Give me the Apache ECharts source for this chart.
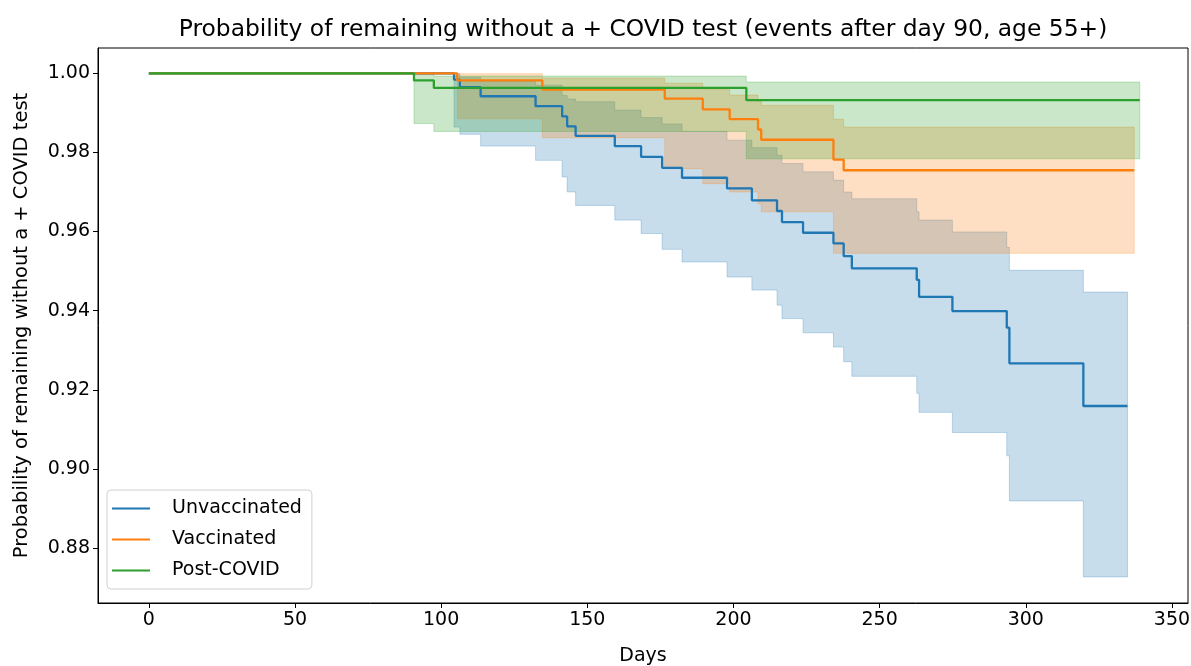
<!DOCTYPE html>
<html>
<head>
<meta charset="utf-8">
<title>Probability of remaining without a + COVID test</title>
<script src="https://cdn.jsdelivr.net/npm/echarts@6/dist/echarts.min.js"></script>
<style>
  html, body { margin: 0; padding: 0; background: #fff; }
  #chart { width: 1191px; height: 666px; }
</style>
</head>
<body>
<div id="chart"></div>
<script>
// Kaplan-Meier step curves
const xTicks = [0, 50, 100, 150, 200, 250, 300, 350]
const yTicks = [0.88, 0.90, 0.92, 0.94, 0.96, 0.98, 1.00]

const unvaxDays = [0, 104.4, 106.4, 113.5, 132.3, 141.4, 143.1, 146.0, 159.4, 168.4, 175.6, 182.4, 197.8, 206.3, 214.9, 216.6, 223.8, 234.2, 237.7, 240.5, 262.7, 263.5, 274.9, 293.5, 294.4, 319.7, 334.8]
const unvaxSurv = [1, 0.9984, 0.9965, 0.9942, 0.9917, 0.9891, 0.9866, 0.9842, 0.9816, 0.9789, 0.9761, 0.9736, 0.9709, 0.9679, 0.9652, 0.9624, 0.9597, 0.9570, 0.9538, 0.9507, 0.9478, 0.9435, 0.9399, 0.9357, 0.9267, 0.9159, 0.9159]
const unvaxLower = [1, 0.9864, 0.9846, 0.9816, 0.9780, 0.9738, 0.9700, 0.9666, 0.9629, 0.9595, 0.9555, 0.9523, 0.9485, 0.9452, 0.9414, 0.9380, 0.9344, 0.9308, 0.9271, 0.9234, 0.9191, 0.9143, 0.9092, 0.9033, 0.8919, 0.8727, 0.8727]
const unvaxUpper = [1, 0.9999, 0.9990, 0.9980, 0.9970, 0.9944, 0.9935, 0.9928, 0.9907, 0.9888, 0.9872, 0.9853, 0.9831, 0.9812, 0.9793, 0.9772, 0.9751, 0.9730, 0.9700, 0.9683, 0.9650, 0.9629, 0.9599, 0.9560, 0.9502, 0.9447, 0.9447]

const vaxDays = [0, 105.5, 134.6, 176.5, 189.5, 198.7, 208.4, 209.5, 234.2, 237.7, 337.1]
const vaxSurv = [1, 0.9982, 0.9959, 0.9936, 0.9909, 0.9884, 0.9858, 0.9832, 0.9782, 0.9755, 0.9755]
const vaxLower = [1, 0.9885, 0.9837, 0.9759, 0.9721, 0.9700, 0.9670, 0.9650, 0.9545, 0.9545, 0.9545]
const vaxUpper = [1, 0.9999, 0.9988, 0.9975, 0.9960, 0.9945, 0.9930, 0.9919, 0.9884, 0.9864, 0.9864]

const postDays = [0, 90.7, 97.5, 204.4, 339]
const postSurv = [1, 0.9982, 0.9963, 0.9932, 0.9932]
const postLower = [1, 0.9873, 0.9853, 0.9784, 0.9784]
const postUpper = [1, 0.9998, 0.9993, 0.9978, 0.9978]

const groups = [
  { name: 'Unvaccinated', color: '#1f77b4', days: unvaxDays, surv: unvaxSurv, lower: unvaxLower, upper: unvaxUpper },
  { name: 'Vaccinated', color: '#ff7f0e', days: vaxDays, surv: vaxSurv, lower: vaxLower, upper: vaxUpper },
  { name: 'Post-COVID', color: '#2ca02c', days: postDays, surv: postSurv, lower: postLower, upper: postUpper },
]

const FONT = 'DejaVu Sans'

function pairs(xs, ys) {
  return xs.map((x, i) => [x, ys[i]])
}

// confidence band as one step-shaped polygon (drawn on the first item only)
function bandRenderer(g) {
  return function (params, api) {
    if (params.dataIndex !== 0) return null
    const n = g.days.length
    const top = []
    const bottom = []
    for (let i = 0; i < n - 1; i++) {
      top.push(api.coord([g.days[i], g.upper[i]]), api.coord([g.days[i + 1], g.upper[i]]))
      bottom.push(api.coord([g.days[i], g.lower[i]]), api.coord([g.days[i + 1], g.lower[i]]))
    }
    return {
      type: 'polygon',
      shape: { points: top.concat(bottom.reverse()) },
      style: { fill: g.color, stroke: g.color, lineWidth: 1, opacity: 0.25 },
      silent: true,
    }
  }
}

const bandSeries = groups.map((g) => ({
  type: 'custom',
  name: g.name + ' CI',
  data: g.days.map((d, i) => [d, g.lower[i], g.upper[i]]),
  encode: { x: 0, y: [1, 2] },
  renderItem: bandRenderer(g),
  silent: true,
  z: 1,
}))

const lineSeries = groups.map((g) => ({
  type: 'line',
  name: g.name,
  step: 'end',
  data: pairs(g.days, g.surv),
  symbol: 'none',
  lineStyle: { color: g.color, width: 2.3 },
  itemStyle: { color: g.color },
  z: 3,
}))

const chart = echarts.init(document.getElementById('chart'), null, { renderer: 'canvas' })

chart.setOption({
  animation: false,
  title: {
    text: 'Probability of remaining without a + COVID test (events after day 90, age 55+)',
    left: 638,
    top: 13,
    textAlign: 'center',
    textStyle: { fontFamily: FONT, fontSize: 23.4, fontWeight: 'normal', color: '#000' },
  },
  grid: {
    left: 98, right: 3, top: 48, bottom: 63,
    outerBoundsMode: 'none',
    containLabel: false,
    show: true, borderColor: '#000', borderWidth: 1,
  },
  legend: {
    data: groups.map((g) => g.name),
    orient: 'vertical',
    left: 107,
    top: 490,
    icon: 'rect',
    itemWidth: 38,
    itemHeight: 2,
    itemGap: 12,
    padding: [9, 10, 9, 5],
    backgroundColor: 'rgba(255,255,255,0.8)',
    borderColor: '#d0d0d0',
    borderWidth: 1,
    borderRadius: 4,
    textStyle: { fontFamily: FONT, fontSize: 19, color: '#000', padding: [0, 0, 0, 17] },
  },
  xAxis: {
    type: 'value',
    min: -17.4,
    max: 355.5,
    name: 'Days',
    nameLocation: 'middle',
    nameGap: 44,
    nameTextStyle: { fontFamily: FONT, fontSize: 19, color: '#000' },
    splitLine: { show: false },
    axisLine: { show: true, onZero: false, lineStyle: { color: '#000' } },
    axisTick: { show: true, length: 5, customValues: xTicks, lineStyle: { color: '#000' } },
    axisLabel: { customValues: xTicks, margin: 8, fontFamily: FONT, fontSize: 19, color: '#000' },
  },
  yAxis: {
    type: 'value',
    min: 0.8661,
    max: 1.0064,
    name: 'Probability of remaining without a + COVID test',
    nameLocation: 'middle',
    nameGap: 66,
    nameTextStyle: { fontFamily: FONT, fontSize: 19.5, color: '#000' },
    splitLine: { show: false },
    axisLine: { show: true, onZero: false, lineStyle: { color: '#000' } },
    axisTick: { show: true, length: 5, customValues: yTicks, lineStyle: { color: '#000' } },
    axisLabel: {
      customValues: yTicks,
      margin: 8,
      fontFamily: FONT,
      fontSize: 19,
      color: '#000',
      formatter: (v) => v.toFixed(2),
    },
  },
  series: [...bandSeries, ...lineSeries],
})
</script>
</body>
</html>
